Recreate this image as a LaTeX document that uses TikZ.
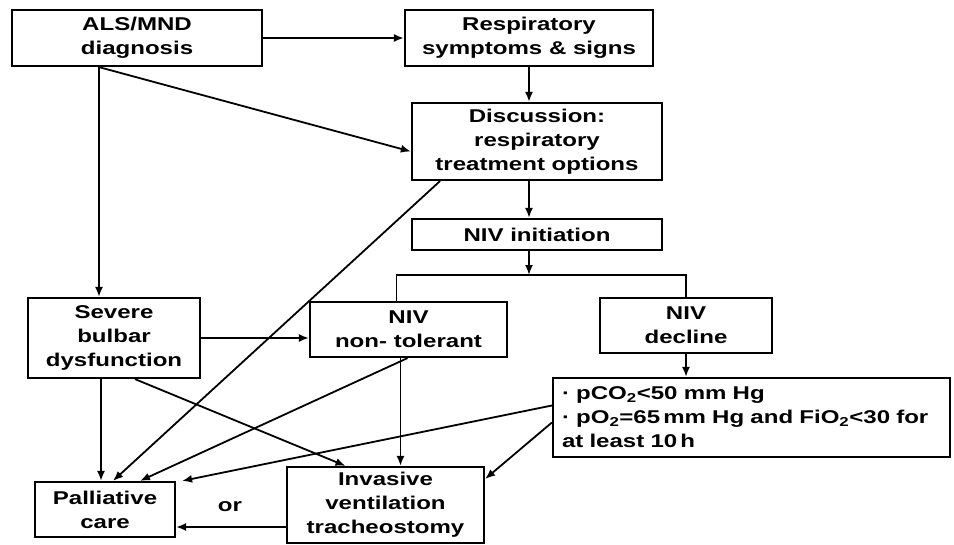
\documentclass[tikz,border=0pt]{standalone}
\usepackage{fontspec}
\newfontfamily\boxfont{Liberation Sans}[FakeStretch=1.3]
\usetikzlibrary{arrows.meta}

\begin{document}
\begin{tikzpicture}[x=1pt, y=-1pt, line width=1.8pt, >={Latex[length=10pt,width=8pt]},
    txt/.style = {font=\boxfont\bfseries\fontsize{18.5pt}{24pt}\selectfont},
    main/.style = {draw, txt, line width=2.2pt, align=center, inner sep=2pt}]
    \useasboundingbox (0,0) rectangle (954,544);
    \node[main, minimum width=250pt, minimum height=56pt] (als) at (137,38) {ALS/MND\\diagnosis};
    \node[main, minimum width=248pt, minimum height=56pt] (resp) at (529,38) {Respiratory\\symptoms \& signs};
    \node[main, minimum width=250pt, minimum height=77pt] (disc) at (537,141.5) {Discussion:\\respiratory\\treatment options};
    \node[main, minimum width=250pt, minimum height=31pt] (init) at (537,234.5) {NIV initiation};
    \node[main, minimum width=172pt, minimum height=80pt] (bulbar) at (114,338) {Severe\\bulbar\\dysfunction};
    \node[main, minimum width=197pt, minimum height=55pt] (nontol) at (408.5,329.5) {NIV\\non- tolerant};
    \node[main, minimum width=172pt, minimum height=55pt] (decline) at (686,325.5) {NIV\\decline};
    \node[main, align=left, text width=379pt, inner xsep=9pt, minimum height=79pt] (crit) at (751.5,417.5)
        {· pCO\textsubscript{2}<50 mm Hg\\· pO\textsubscript{2}=65\,mm Hg and FiO\textsubscript{2}<30 for\\at least 10\,h};
    \node[main, minimum width=140pt, minimum height=55pt] (pall) at (105,509.5) {Palliative\\care};
    \node[main, minimum width=197pt, minimum height=76pt] (inv) at (385.5,505) {Invasive\\ventilation\\tracheostomy};
    \node[txt] (orlabel) at (230,507) {or};
    \coordinate (fork) at (529,275);

    \draw[->] (als) to (resp);
    \draw[->] ([xshift=-38pt]als.south) to ([yshift=-10pt]disc.west);
    \draw[->] ([xshift=-38pt]als.south) to ([xshift=-38pt]als.south |- bulbar.north);
    \draw[->] (resp) to (resp |- disc.north);
    \draw[->] (disc.south -| resp) to (init.north -| resp);
    \draw[->] (init.south -| resp) to (fork);
    \draw ([xshift=-12pt]nontol.north) |- (fork) -| (decline.north);
    \draw[->] ([xshift=-97pt]disc.south) to ([xshift=8pt]pall.north);
    \draw[->] (bulbar.east) to (bulbar.east -| nontol.west);
    \draw[->] ([xshift=-13pt]bulbar.south) to ([xshift=-13pt]bulbar.south |- pall.north);
    \draw[->] ([xshift=21pt]bulbar.south) to ([xshift=-40pt]inv.north);
    \draw[->] ([xshift=-1pt]nontol.south) to ([xshift=35pt]pall.north);
    \draw[->] ([xshift=-8pt]nontol.south) to ([xshift=-8pt]nontol.south |- inv.north);
    \draw[->] ([yshift=12pt]crit.west) to ([xshift=6pt]pall.north east);
    \draw[->] ([yshift=-5pt]crit.west) to ([yshift=26pt]inv.east);
    \draw[->] (decline) to (decline |- crit.north);
    \draw[->] ([yshift=-22pt]inv.west) to ([yshift=-22pt]inv.west -| pall.east);
\end{tikzpicture}
\end{document}
